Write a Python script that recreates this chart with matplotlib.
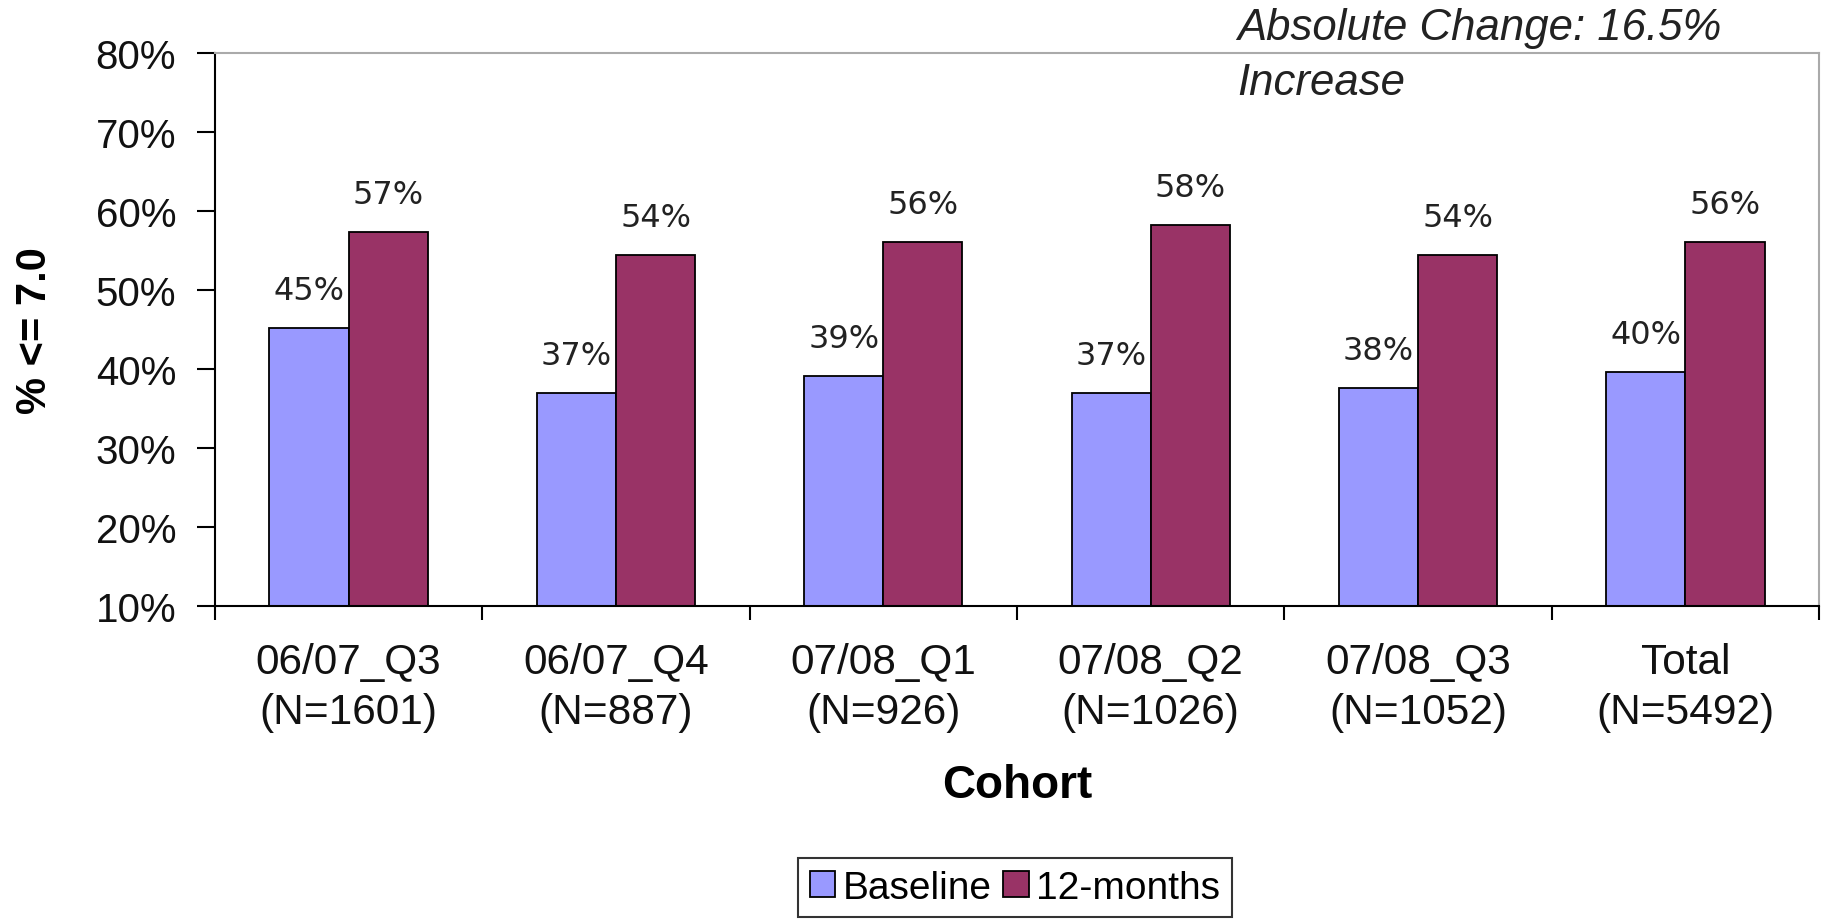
import matplotlib.pyplot as plt
import numpy as np

# data
cohorts = ['06/07_Q3\n(N=1601)', '06/07_Q4\n(N=887)', '07/08_Q1\n(N=926)',
           '07/08_Q2\n(N=1026)', '07/08_Q3\n(N=1052)', 'Total\n(N=5492)']
baseline = [45.2, 37.0, 39.2, 37.0, 37.6, 39.6]
twelve_months = [57.4, 54.4, 56.1, 58.2, 54.4, 56.1]
yticks = [10, 20, 30, 40, 50, 60, 70, 80]

plt.rcParams['font.family'] = ['Liberation Sans', 'DejaVu Sans']

fig = plt.figure(figsize=(18.26, 9.2), dpi=100)
ax = fig.add_axes([0.1177, 0.340, 0.8785, 0.601])

x = np.arange(len(cohorts))
w = 0.296
b1 = ax.bar(x - w / 2, baseline, w, bottom=0, color='#9999FF',
            edgecolor='black', linewidth=1.3, label='Baseline')
b2 = ax.bar(x + w / 2, twelve_months, w, color='#993366',
            edgecolor='black', linewidth=1.3, label='12-months')

# value labels above the bars
for bars, vals in [(b1, baseline), (b2, twelve_months)]:
    for rect, v in zip(bars, vals):
        ax.annotate(f'{v:.0f}%', (rect.get_x() + rect.get_width() / 2, v),
                    xytext=(0, 27), textcoords='offset points',
                    ha='center', va='center', fontsize=23,
                    family='DejaVu Sans', color='#222222')

ax.set_xlim(-0.5, len(cohorts) - 0.5)
ax.set_ylim(10, 80)
ax.set_yticks(yticks)
ax.set_yticklabels([f'{t}%' for t in yticks], fontsize=29, color='#111111')
ax.tick_params(axis='y', length=13, width=1.5, pad=15, direction='out')

ax.set_xticks(x)
ax.set_xticklabels(cohorts, fontsize=30.5, linespacing=1.3, color='#111111')
ax.set_xticks(np.arange(-0.5, len(cohorts)), minor=True)
ax.tick_params(axis='x', which='major', length=0, pad=26)
ax.tick_params(axis='x', which='minor', length=10, width=1.5, direction='out')

for side in ['left', 'bottom']:
    ax.spines[side].set_color('black')
    ax.spines[side].set_linewidth(1.5)
for side in ['top', 'right']:
    ax.spines[side].set_color('#aaaaaa')
    ax.spines[side].set_linewidth(1.5)

ax.set_ylabel('% <= 7.0', fontsize=30, fontweight='bold')
ax.yaxis.label.set_va('center')
ax.yaxis.set_label_coords(-0.112, 0.5)
ax.set_xlabel('Cohort', fontsize=33, fontweight='bold')
ax.xaxis.label.set_va('center')
ax.xaxis.set_label_coords(0.5, -0.324)

fig.text(1237 / 1826, 1 - 8 / 920, 'Absolute Change: 16.5%\nIncrease',
         fontsize=31.5, style='italic', ha='left', va='top', color='#222222',
         linespacing=1.45)

leg = fig.legend(handles=[b1, b2], loc='upper center',
                 bbox_to_anchor=(1015 / 1826, 1 - 859 / 920), ncol=2,
                 fontsize=28, frameon=True, fancybox=False, handlelength=0.65,
                 handleheight=0.65, handletextpad=0.2, columnspacing=0.3,
                 borderpad=0.3, borderaxespad=0)
leg.get_frame().set_edgecolor('black')
leg.get_frame().set_linewidth(1.5)

fig.savefig('out.png', dpi=100)
